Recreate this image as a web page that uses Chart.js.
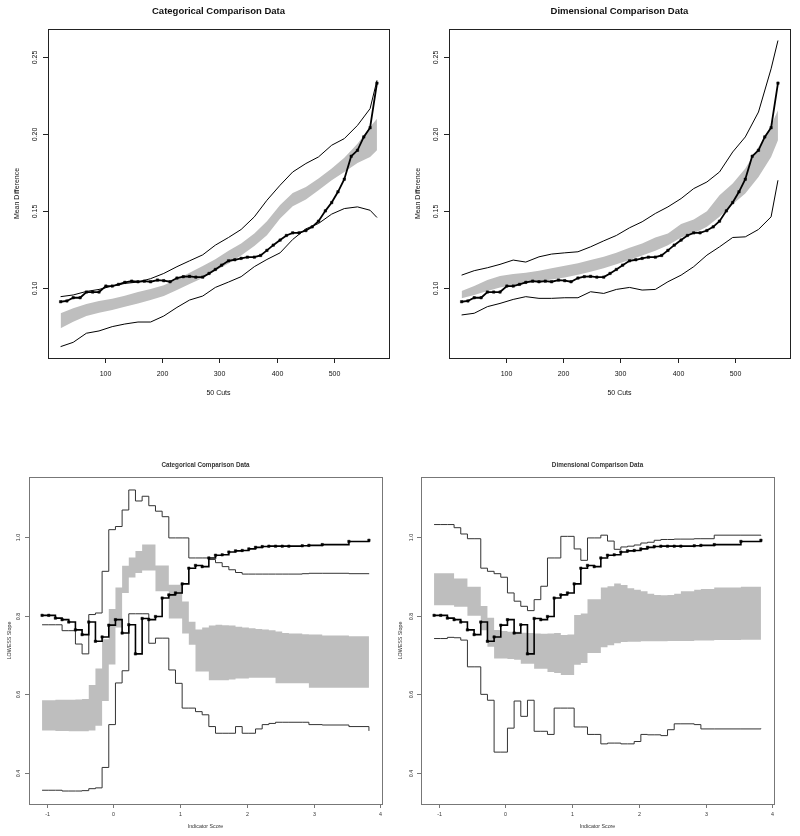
<!DOCTYPE html>
<html>
<head>
<meta charset="utf-8">
<script src="https://cdn.jsdelivr.net/npm/chart.js"></script>
<style>
  body { margin: 0; background: #fff; width: 800px; height: 836px; position: relative; overflow: hidden; }
  canvas { position: absolute; }
</style>
</head>
<body>
<canvas id="catCuts" style="left:0;top:0;width:400px;height:410px" width="400" height="410"></canvas>
<canvas id="dimCuts" style="left:400px;top:0;width:400px;height:410px" width="400" height="410"></canvas>
<canvas id="catScore" style="left:0;top:450px;width:400px;height:386px" width="400" height="386"></canvas>
<canvas id="dimScore" style="left:395px;top:450px;width:405px;height:386px" width="405" height="386"></canvas>
<script>
// ---- top row: 50 cuts ----
const cuts = [23,34,45,57,68,79,90,102,113,124,135,147,158,169,180,192,203,214,226,237,248,259,271,282,293,304,316,327,338,349,361,372,383,394,406,417,428,439,451,462,473,485,496,507,518,530,541,552,563,575];
const meanDiff = [0.0911,0.0916,0.0937,0.0937,0.0974,0.0974,0.0974,0.1013,0.1013,0.1024,0.1037,0.1045,0.1041,0.1045,0.1041,0.1052,0.1048,0.1041,0.1065,0.1074,0.1076,0.1071,0.1071,0.1095,0.1121,0.1149,0.1177,0.1184,0.1193,0.1201,0.1201,0.1212,0.1245,0.1279,0.1312,0.1342,0.1359,0.1359,0.1374,0.1398,0.1435,0.1502,0.1556,0.1626,0.1708,0.1857,0.1896,0.1983,0.2043,0.2333];

const envCuts = [23,45,68,90,113,135,158,180,203,226,248,271,293,316,338,361,383,406,428,451,473,496,518,541,563,575];
const catUpper = [0.0944,0.0955,0.0978,0.0991,0.1013,0.1030,0.1039,0.1061,0.1095,0.1139,0.1177,0.1216,0.1279,0.1329,0.1381,0.1463,0.1571,0.1669,0.1755,0.1810,0.1853,0.1929,0.1972,0.2058,0.2167,0.2351];
const catLower = [0.0619,0.0647,0.0706,0.0721,0.0749,0.0766,0.0779,0.0779,0.0818,0.0874,0.0922,0.0948,0.1004,0.1039,0.1074,0.1139,0.1186,0.1229,0.1316,0.1385,0.1420,0.1481,0.1517,0.1528,0.1506,0.1459];
const catBandLo = [0.0738,0.0781,0.0818,0.0840,0.0857,0.0879,0.0900,0.0922,0.0948,0.0987,0.1026,0.1065,0.1113,0.1160,0.1212,0.1273,0.1344,0.1452,0.1532,0.1576,0.1636,0.1701,0.1755,0.1814,0.1853,0.1896];
const catBandHi = [0.0836,0.0868,0.0896,0.0916,0.0931,0.0950,0.0974,0.0994,0.1019,0.1058,0.1100,0.1143,0.1188,0.1242,0.1290,0.1355,0.1435,0.1541,0.1619,0.1658,0.1712,0.1777,0.1848,0.1939,0.2048,0.2102];
const dimUpper = [0.1084,0.1113,0.1132,0.1154,0.1182,0.1169,0.1203,0.1221,0.1229,0.1236,0.1268,0.1307,0.1342,0.1392,0.1431,0.1485,0.1528,0.1582,0.1647,0.1690,0.1755,0.1885,0.1983,0.2145,0.2426,0.2610];
const dimLower = [0.0825,0.0836,0.0879,0.0900,0.0926,0.0944,0.0933,0.0933,0.0937,0.0937,0.0976,0.0965,0.0991,0.1004,0.0987,0.0991,0.1041,0.1084,0.1139,0.1214,0.1268,0.1329,0.1333,0.1381,0.1463,0.1701];
const dimBandLo = [0.0933,0.0955,0.0981,0.1004,0.1019,0.1030,0.1045,0.1056,0.1069,0.1087,0.1106,0.1128,0.1154,0.1182,0.1212,0.1242,0.1279,0.1329,0.1355,0.1398,0.1463,0.1545,0.1615,0.1723,0.1853,0.1961];
const dimBandHi = [0.0981,0.1013,0.1052,0.1078,0.1091,0.1100,0.1113,0.1128,0.1145,0.1162,0.1182,0.1203,0.1229,0.1262,0.1290,0.1329,0.1355,0.1416,0.1446,0.1500,0.1604,0.1680,0.1777,0.1918,0.2058,0.2156];

const cutTicks = [100, 200, 300, 400, 500];
const cutLabels = ['100', '200', '300', '400', '500'];
const diffTicks = [0.10, 0.15, 0.20, 0.25];
const diffLabels = ['0.10', '0.15', '0.20', '0.25'];

// ---- bottom row: indicator score ----
const score = [-1.07,-0.97,-0.87,-0.77,-0.67,-0.57,-0.47,-0.37,-0.27,-0.17,-0.07,0.03,0.13,0.23,0.33,0.43,0.53,0.63,0.73,0.83,0.93,1.03,1.13,1.23,1.33,1.43,1.53,1.63,1.73,1.83,1.93,2.03,2.13,2.23,2.33,2.43,2.53,2.63,2.83,2.93,3.13,3.53,3.83];
const slope = [0.801,0.801,0.794,0.790,0.784,0.764,0.752,0.784,0.735,0.746,0.776,0.790,0.756,0.777,0.703,0.793,0.790,0.798,0.845,0.853,0.858,0.881,0.921,0.928,0.925,0.947,0.954,0.955,0.962,0.965,0.966,0.970,0.974,0.976,0.977,0.977,0.977,0.977,0.978,0.979,0.981,0.989,0.992];
const catSlopeUpper = [0.777,0.777,0.777,0.762,0.762,0.728,0.703,0.803,0.807,0.913,1.019,1.027,1.069,1.120,1.092,1.104,1.080,1.066,1.052,0.998,0.998,0.998,0.947,0.947,0.947,0.943,0.935,0.925,0.917,0.910,0.906,0.906,0.906,0.906,0.906,0.906,0.906,0.906,0.907,0.908,0.908,0.907,0.906];
const catSlopeLower = [0.356,0.356,0.356,0.354,0.354,0.354,0.355,0.360,0.362,0.414,0.523,0.629,0.660,0.805,0.805,0.805,0.730,0.743,0.743,0.662,0.628,0.565,0.565,0.556,0.548,0.518,0.501,0.501,0.501,0.518,0.501,0.501,0.512,0.523,0.526,0.529,0.529,0.529,0.529,0.523,0.522,0.518,0.507];
const catSlopeBandLo = [0.508,0.508,0.507,0.507,0.506,0.506,0.506,0.508,0.520,0.583,0.676,0.770,0.858,0.897,0.909,0.915,0.915,0.862,0.862,0.793,0.793,0.755,0.726,0.658,0.658,0.636,0.636,0.636,0.638,0.640,0.640,0.642,0.642,0.642,0.642,0.628,0.628,0.628,0.628,0.617,0.617,0.617,0.616];
const catSlopeBandHi = [0.585,0.585,0.586,0.586,0.586,0.587,0.588,0.624,0.666,0.740,0.817,0.872,0.927,0.948,0.965,0.981,0.981,0.928,0.928,0.879,0.879,0.836,0.785,0.765,0.770,0.775,0.777,0.776,0.775,0.772,0.770,0.768,0.766,0.765,0.763,0.760,0.756,0.755,0.753,0.752,0.750,0.748,0.747];
const dimSlopeUpper = [1.032,1.032,1.032,1.024,1.008,0.996,0.996,0.921,0.913,0.907,0.898,0.858,0.837,0.824,0.813,0.841,0.875,0.947,0.947,1.002,1.002,0.970,0.941,0.998,0.998,1.005,0.990,0.969,0.975,0.977,0.980,0.985,0.987,0.992,0.994,0.994,0.995,0.995,0.996,0.996,1.005,1.005,1.004];
const dimSlopeLower = [0.742,0.742,0.745,0.744,0.738,0.670,0.670,0.600,0.585,0.453,0.453,0.514,0.583,0.544,0.585,0.506,0.506,0.498,0.565,0.565,0.565,0.517,0.517,0.498,0.498,0.474,0.476,0.476,0.474,0.474,0.480,0.498,0.497,0.497,0.495,0.510,0.525,0.525,0.523,0.512,0.512,0.512,0.513];
const dimSlopeBandLo = [0.827,0.827,0.827,0.823,0.823,0.800,0.800,0.763,0.721,0.691,0.691,0.690,0.688,0.678,0.678,0.665,0.665,0.657,0.654,0.649,0.649,0.675,0.680,0.705,0.705,0.720,0.725,0.730,0.733,0.734,0.734,0.735,0.735,0.735,0.735,0.736,0.736,0.736,0.737,0.737,0.738,0.739,0.739];
const dimSlopeBandHi = [0.908,0.908,0.908,0.895,0.895,0.874,0.874,0.825,0.795,0.764,0.761,0.759,0.759,0.757,0.756,0.755,0.754,0.755,0.756,0.751,0.752,0.802,0.806,0.842,0.842,0.872,0.875,0.882,0.878,0.870,0.866,0.862,0.856,0.853,0.852,0.853,0.856,0.862,0.866,0.868,0.872,0.874,0.875];

const scoreTicks = [-1, 0, 1, 2, 3, 4];
const scoreLabels = ['-1', '0', '1', '2', '3', '4'];
const slopeTicks = [0.4, 0.6, 0.8, 1.0];
const slopeLabels = ['0.4', '0.6', '0.8', '1.0'];

const FONT = '"Liberation Sans", Arial, Helvetica, sans-serif';
const GRAY = '#bebebe';

const pts = (xs, ys) => xs.map((x, i) => ({ x: x, y: ys[i] }));

// R-like frame: box, outside ticks, rotated y labels, titles
const rFrame = {
  id: 'rFrame',
  afterDraw(chart, args, o) {
    const ctx = chart.ctx, a = chart.chartArea;
    const xs = chart.scales.x, ys = chart.scales.y;
    ctx.save();
    ctx.strokeStyle = o.frame;
    ctx.lineWidth = 1;
    ctx.strokeRect(Math.round(a.left) + 0.5, Math.round(a.top) + 0.5,
                   Math.round(a.right - a.left), Math.round(a.bottom - a.top));
    ctx.fillStyle = o.ink;
    ctx.textAlign = 'center';
    ctx.textBaseline = 'middle';
    ctx.font = o.tickFont + 'px ' + FONT;
    ctx.beginPath();
    o.xTicks.forEach((v, i) => {
      const px = Math.round(xs.getPixelForValue(v)) + 0.5;
      ctx.moveTo(px, a.bottom);
      ctx.lineTo(px, a.bottom + o.tickLen);
      ctx.fillText(o.xLabels[i], px, o.xLabelY);
    });
    o.yTicks.forEach((v, i) => {
      const py = Math.round(ys.getPixelForValue(v)) + 0.5;
      ctx.moveTo(a.left, py);
      ctx.lineTo(a.left - o.tickLen, py);
      ctx.save();
      ctx.translate(o.yLabelX, py);
      ctx.rotate(-Math.PI / 2);
      ctx.fillText(o.yLabels[i], 0, 0);
      ctx.restore();
    });
    ctx.stroke();

    const cx = (a.left + a.right) / 2, cy = (a.top + a.bottom) / 2;
    ctx.font = 'bold ' + o.titleFont + 'px ' + FONT;
    ctx.fillText(o.title, cx, o.titleY);
    ctx.font = o.labelFont + 'px ' + FONT;
    ctx.fillText(o.xTitle, cx, o.xTitleY);
    ctx.save();
    ctx.translate(o.yTitleX, cy);
    ctx.rotate(-Math.PI / 2);
    ctx.fillText(o.yTitle, 0, 0);
    ctx.restore();
    ctx.restore();
  }
};

function buildSets(xMean, yMean, xEnv, up, low, bandLo, bandHi, st) {
  const step = st.stepped;
  return [
    { data: pts(xMean, yMean), borderColor: '#000', backgroundColor: '#000', borderWidth: st.meanWidth,
      pointStyle: 'rect', pointRadius: st.pointRadius, pointBorderWidth: 0.5, stepped: step, order: 0 },
    { data: pts(xEnv, up), borderColor: st.envColor, borderWidth: st.envWidth, pointRadius: 0, stepped: step, order: 1 },
    { data: pts(xEnv, low), borderColor: st.envColor, borderWidth: st.envWidth, pointRadius: 0, stepped: step, order: 1 },
    { data: pts(xEnv, bandLo), borderWidth: 0, borderColor: 'rgba(0,0,0,0)', pointRadius: 0, stepped: step, order: 2 },
    { data: pts(xEnv, bandHi), borderWidth: 0, borderColor: 'rgba(0,0,0,0)', backgroundColor: GRAY,
      pointRadius: 0, stepped: step, order: 2, fill: { target: 3 } }
  ];
}

function panel(id, w, h, area, xr, yr, datasets, frame) {
  return new Chart(document.getElementById(id), {
    type: 'line',
    data: { datasets: datasets },
    options: {
      responsive: false,
      animation: false,
      events: [],
      layout: { autoPadding: false, padding: { left: 0, top: area.top, right: w - area.right, bottom: 0 } },
      plugins: { legend: { display: false }, tooltip: { enabled: false }, rFrame: frame },
      scales: {
        x: { type: 'linear', min: xr[0], max: xr[1],
             ticks: { display: false }, grid: { display: false }, border: { display: false },
             afterFit: s => { s.height = h - area.bottom; } },
        y: { type: 'linear', min: yr[0], max: yr[1],
             ticks: { display: false }, grid: { display: false }, border: { display: false },
             afterFit: s => { s.width = area.left; } }
      }
    },
    plugins: [rFrame]
  });
}

const topStyle = { stepped: false, meanWidth: 1.8, pointRadius: 1.7, envColor: '#000', envWidth: 1 };
const botStyle = { stepped: true, meanWidth: 1.6, pointRadius: 1.7, envColor: '#333', envWidth: 1 };

const topFrame = (title, yLabelX, yTitleX) => ({
  frame: '#222', ink: '#111', tickLen: 5, tickFont: 7, labelFont: 7, titleFont: 9.5,
  title: title, xTitle: '50 Cuts', yTitle: 'Mean Difference',
  xTicks: cutTicks, xLabels: cutLabels, yTicks: diffTicks, yLabels: diffLabels,
  titleY: 11, xLabelY: 374, xTitleY: 393, yLabelX: yLabelX, yTitleX: yTitleX
});
const botFrame = (title, yLabelX, yTitleX) => ({
  frame: '#777', ink: '#333', tickLen: 4, tickFont: 5.3, labelFont: 5.3, titleFont: 6.3,
  title: title, xTitle: 'Indicator Score', yTitle: 'LOWESS Slope',
  xTicks: scoreTicks, xLabels: scoreLabels, yTicks: slopeTicks, yLabels: slopeLabels,
  titleY: 15.5, xLabelY: 365, xTitleY: 377, yLabelX: yLabelX, yTitleX: yTitleX
});

const cutRange = [1, 596], diffRange = [0.0545, 0.2685];
const scoreRange = [-1.266, 4.026], slopeRange = [0.321, 1.153];

panel('catCuts', 400, 410, { left: 48, top: 29, right: 389, bottom: 358 }, cutRange, diffRange,
  buildSets(cuts, meanDiff, envCuts, catUpper, catLower, catBandLo, catBandHi, topStyle),
  topFrame('Categorical Comparison Data', 35, 17));
panel('dimCuts', 400, 410, { left: 49, top: 29, right: 390, bottom: 358 }, cutRange, diffRange,
  buildSets(cuts, meanDiff, envCuts, dimUpper, dimLower, dimBandLo, dimBandHi, topStyle),
  topFrame('Dimensional Comparison Data', 36, 18));
panel('catScore', 400, 386, { left: 29, top: 27, right: 382, bottom: 354 }, scoreRange, slopeRange,
  buildSets(score, slope, score, catSlopeUpper, catSlopeLower, catSlopeBandLo, catSlopeBandHi, botStyle),
  botFrame('Categorical Comparison Data', 19, 10));
panel('dimScore', 405, 386, { left: 26, top: 27, right: 379, bottom: 354 }, scoreRange, slopeRange,
  buildSets(score, slope, score, dimSlopeUpper, dimSlopeLower, dimSlopeBandLo, dimSlopeBandHi, botStyle),
  botFrame('Dimensional Comparison Data', 16.7, 5.5));
</script>
</body>
</html>
